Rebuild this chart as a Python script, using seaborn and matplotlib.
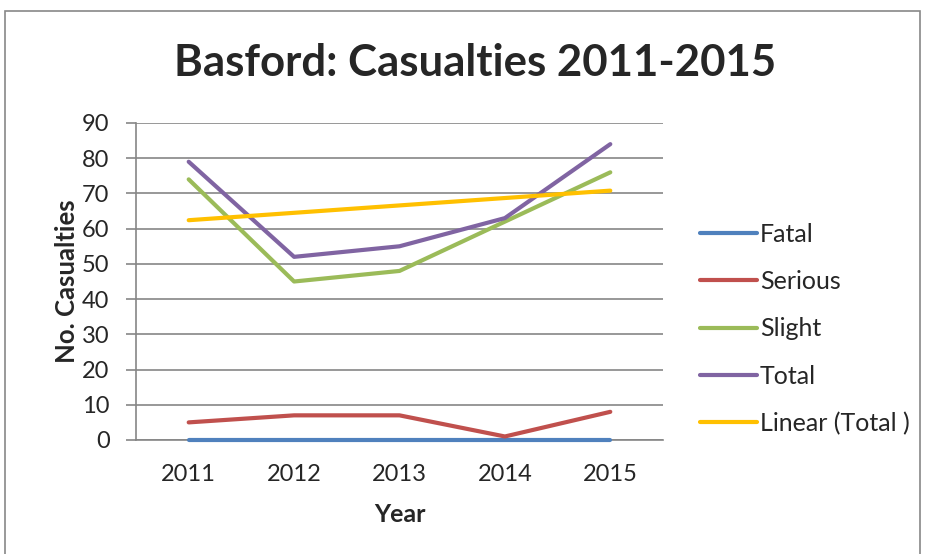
import matplotlib

matplotlib.use("Agg")
import matplotlib.pyplot as plt
import pandas as pd
import seaborn as sns
from matplotlib.patches import Rectangle

YEARS = [2011, 2012, 2013, 2014, 2015]
FATAL = [0, 0, 0, 0, 0]
SERIOUS = [5, 7, 7, 1, 8]
SLIGHT = [74, 45, 48, 62, 76]
TOTAL = [79, 52, 55, 63, 84]
SERIES = ["Fatal", "Serious", "Slight", "Total"]
COLORS = {"Fatal": "#4F81BD", "Serious": "#C0504D", "Slight": "#9BBB59", "Total": "#8064A2"}
TREND = "#FFC000"
GRID = "#868686"

sns.set_theme(style="white")
plt.rcParams["font.family"] = ["Lato", "DejaVu Sans"]

df = pd.DataFrame({"year": YEARS, "Fatal": FATAL, "Serious": SERIOUS, "Slight": SLIGHT, "Total": TOTAL})
long = df.melt(id_vars="year", value_vars=SERIES, var_name="serie", value_name="n")

fig = plt.figure(figsize=(9.25, 5.54), dpi=100)
ax = fig.add_axes([136 / 925, 1 - 440 / 554, (663 - 136) / 925, (440 - 123) / 554])

sns.lineplot(data=long, x="year", y="n", hue="serie", hue_order=SERIES, palette=COLORS,
             lw=3, ax=ax, zorder=3, clip_on=False)
# tendencia lineal del total (como la línea de tendencia de Excel)
sns.regplot(data=df, x="year", y="Total", scatter=False, ci=None, color=TREND,
            line_kws={"lw": 3, "zorder": 4}, ax=ax, label="Linear (Total )")

ax.set_xlim(2010.5, 2015.5)
ax.set_ylim(0, 90)
ax.set_yticks(range(0, 91, 10))
ax.set_xticks(YEARS)
ax.yaxis.grid(True, color=GRID, lw=1.2)
ax.set_axisbelow(True)
for sp in ("top", "right"):
    ax.spines[sp].set_visible(False)
for sp in ("left", "bottom"):
    ax.spines[sp].set_color(GRID)
    ax.spines[sp].set_linewidth(1.2)
ax.tick_params(axis="y", left=True, length=7, color=GRID, width=1.2, labelsize=17, pad=12)
ax.tick_params(axis="x", bottom=False, labelsize=17, pad=11)
ax.set_xlabel("Year", fontsize=18, fontweight="bold", labelpad=13)
ax.set_ylabel("No. Casualties", fontsize=18.5, fontweight="bold", labelpad=2)

handles, labels = ax.get_legend_handles_labels()
ax.legend(handles, labels, loc="center left", bbox_to_anchor=(1.07, 0.35), frameon=False,
          fontsize=18, labelspacing=0.97, handlelength=2.3, handletextpad=0.1, borderpad=0,
          borderaxespad=0)

fig.text(475 / 925, 1 - 63 / 554, "Basford: Casualties 2011-2015", ha="center", va="center",
         fontsize=31.5, fontweight="bold")
fig.add_artist(Rectangle((5 / 925, -0.05), (920 - 5) / 925, 1.05 - 11 / 554, transform=fig.transFigure,
                         fill=False, ec="#888888", lw=1.2))

fig.savefig("out.png", dpi=100)
